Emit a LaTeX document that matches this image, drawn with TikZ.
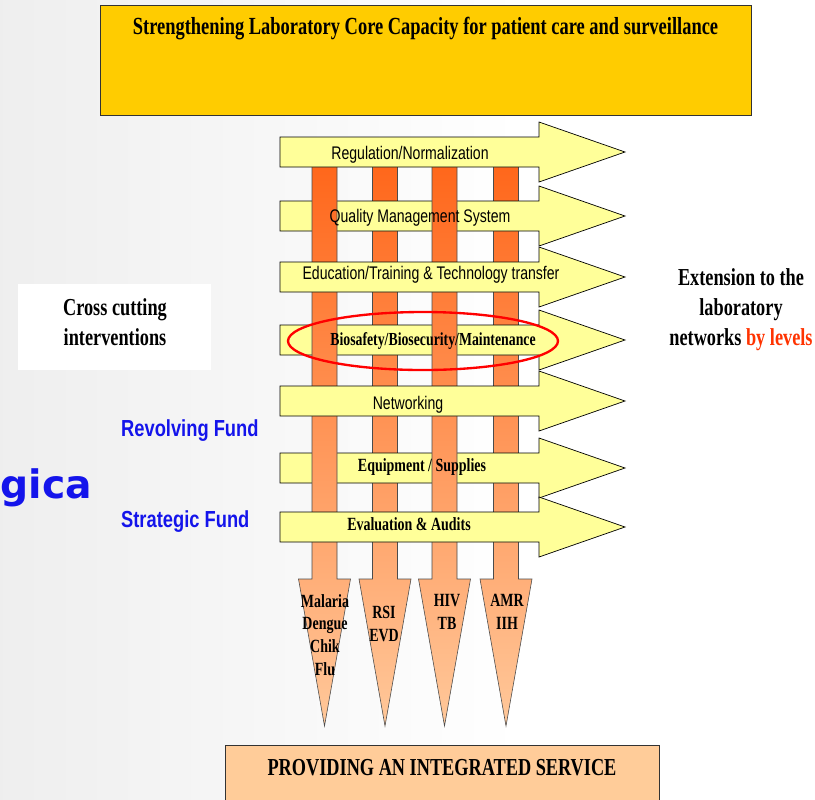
\documentclass[tikz,border=0pt]{standalone}
\usepackage{fontspec}
\setmainfont{Liberation Serif}
\newfontfamily\narrowserif[FakeStretch=0.75]{Liberation Serif}
\newfontfamily\narrowsans[FakeStretch=0.77]{Liberation Sans}
\newfontfamily\fundsans[FakeStretch=0.79]{Liberation Sans}
\newfontfamily\bigsans{DejaVu Sans}
\usetikzlibrary{positioning}

\definecolor{capgold}{HTML}{FFCC00}
\definecolor{bandyellow}{HTML}{FFFF99}
\definecolor{bardark}{HTML}{FF661A}
\definecolor{barlight}{HTML}{FFC89A}
\definecolor{servpeach}{HTML}{FFCC99}
\definecolor{fundblue}{RGB}{20,20,235}
\definecolor{levelred}{HTML}{FF3300}

% horizontal arrow centred at y=#1
\newcommand{\hband}[1]{%
  \filldraw[band] (280,{#1-15}) -- (539,{#1-15}) -- (539,{#1-30}) -- (625,#1)
    -- (539,{#1+30}) -- (539,{#1+15}) -- (280,{#1+15}) -- cycle;}
% vertical bar ending in a down arrow at x=#1
\newcommand{\vbar}[1]{%
  \path[bar] ({#1-12.5},160) -- ({#1-12.5},579) -- ({#1-26},579) -- (#1,726)
    -- ({#1+26},579) -- ({#1+12.5},579) -- ({#1+12.5},160) -- cycle;}

\begin{document}
\begin{tikzpicture}[x=0.03cm, y=-0.03cm,
  band/.style={fill=bandyellow, draw=black, line width=0.6pt},
  bar/.style={top color=bardark, bottom color=barlight, draw=black!70, line width=0.5pt},
  boxtxt/.style={font=\narrowserif\bfseries\fontsize{20.8}{25.5}\selectfont, align=center},
  bandsans/.style={font=\narrowsans\fontsize{15.6}{17}\selectfont},
  bandserif/.style={font=\narrowserif\bfseries\fontsize{15.9}{17}\selectfont},
  tiptxt/.style={font=\narrowserif\bfseries\fontsize{15.9}{19.5}\selectfont, align=center},
  fund/.style={font=\fundsans\bfseries\fontsize{19.8}{21}\selectfont, text=fundblue}
]
\useasboundingbox (0,0) rectangle (815,799);

% background
\fill[left color=gray!13, right color=white] (0,0) rectangle (520,799);
\fill[white] (520,0) rectangle (815,799);

% top and bottom boxes
\filldraw[fill=capgold, draw=black!80, line width=0.6pt] (100,5) rectangle (751,115);
\node[font=\narrowserif\bfseries\fontsize{21}{23}\selectfont] (title) at (425.5,29)
  {Strengthening Laboratory Core Capacity for patient care and surveillance};
\filldraw[fill=servpeach, draw=black!80, line width=0.6pt] (225,745) rectangle (659,805);
\node[boxtxt] (service) at (442,768) {PROVIDING AN INTEGRATED SERVICE};

% weave: bars 2 and 4 under every band
\vbar{385}
\vbar{506}
\hband{216}
\hband{340}
\hband{468}
% bars 1 and 3 over bands 2, 4, 6
\vbar{324.5}
\vbar{444.5}
\hband{152}
\hband{277}
\hband{401}
\hband{527}

% band labels
\node[bandsans] (reg) at (410,155) {Regulation/Normalization};
\node[bandsans] (qms) at (420,218) {Quality Management System};
\node[bandsans] (edu) at (431,275) {Education/Training \& Technology transfer};
\node[bandserif, font=\narrowserif\bfseries\fontsize{15.7}{17}\selectfont] (bio) at (433,341)
  {Biosafety/Biosecurity/Maintenance};
\node[bandsans] (net) at (408,405) {Networking};
\node[bandserif] (equip) at (422,467) {Equipment / Supplies};
\node[bandserif] (eval) at (409,524) {Evaluation \& Audits};
\draw[red, line width=2pt] (423,341) ellipse [x radius=135, y radius=29];

% arrow tip labels
\node[tiptxt] (mal) at (325,635) {Malaria\\Dengue\\Chik\\Flu};
\node[tiptxt] (rsi) at (384,624) {RSI\\EVD};
\node[tiptxt] (hiv) at (447,612) {HIV\\TB};
\node[tiptxt] (amr) at (507,612) {AMR\\IIH};

% side texts
\fill[white] (18,284) rectangle (211,370);
\node[boxtxt] (cross) at (115,322) {Cross cutting\\interventions};
\node[boxtxt] (ext) at (741,310) {Extension to the\\laboratory\\networks \textcolor{levelred}{by levels}};
\node[fund, anchor=west] (rev) at (117,431) {Revolving Fund};
\node[fund, anchor=west] (strat) at (117,522) {Strategic Fund};
\node[font=\bigsans\bfseries\fontsize{33.5}{35}\selectfont, text=fundblue, anchor=east] (gica) at (96,488) {gica};

\end{tikzpicture}
\end{document}
